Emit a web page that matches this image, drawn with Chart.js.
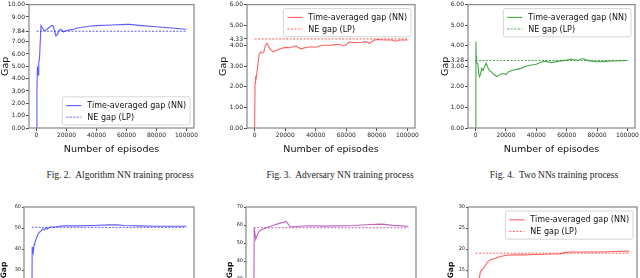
<!DOCTYPE html>
<html>
<head>
<meta charset="utf-8">
<script src="https://cdn.jsdelivr.net/npm/chart.js@4.4.0/dist/chart.umd.min.js"></script>
<style>
  html, body { margin: 0; padding: 0; background: #fff; }
  body { width: 640px; height: 278px; position: relative; overflow: hidden; }
  canvas { position: absolute; }
  .cap { position: absolute; top: 170px; font-family: "Liberation Serif", serif; font-size: 9.5px;
         color: #222; white-space: nowrap; transform: translateX(-50%); }
</style>
</head>
<body>
<canvas id="c1"></canvas>
<canvas id="c2"></canvas>
<canvas id="c3"></canvas>
<canvas id="c4"></canvas>
<canvas id="c5"></canvas>
<canvas id="c6"></canvas>
<div class="cap" style="left:120px">Fig. 2.&nbsp; Algorithm NN training process</div>
<div class="cap" style="left:340px">Fig. 3.&nbsp; Adversary NN training process</div>
<div class="cap" style="left:554px">Fig. 4.&nbsp; Two NNs training process</div>
<script>
// episode ticks shared by every panel
const xTicks = [0, 20000, 40000, 60000, 80000, 100000];

// Fig. 2 - algorithm NN
const ep1 = [0, 300, 600, 1000, 1500, 2000, 2500, 3000, 4000, 5000, 6000, 8000, 10000, 11000, 12000, 13000, 14000, 15000, 16000, 18000, 20000, 22000, 25000, 27000, 30000, 35000, 40000, 50000, 60000, 62000, 70000, 80000, 90000, 100000];
const gap1 = [0, 3.0, 5.0, 4.3, 5.3, 5.6, 7.0, 8.3, 8.1, 7.9, 7.9, 8.1, 8.3, 8.3, 7.9, 7.45, 7.6, 7.9, 8.0, 7.8, 7.9, 7.95, 8.0, 8.1, 8.15, 8.25, 8.3, 8.35, 8.4, 8.4, 8.3, 8.2, 8.1, 8.0];
const ne1 = 7.84;
const yTicks1 = [0, 1, 2, 3, 4, 5, 6, 7, 7.84, 9, 10];

// Fig. 3 - adversary NN
const ep2 = [0, 300, 600, 1000, 2000, 3000, 4000, 5000, 6000, 7000, 8000, 9000, 10000, 12000, 15000, 18000, 20000, 23000, 25000, 27000, 30000, 33000, 37000, 40000, 43000, 45000, 50000, 55000, 58000, 60000, 62000, 65000, 70000, 73000, 75000, 78000, 80000, 85000, 90000, 92000, 95000, 100000];
const gap2 = [0, 2.2, 2.45, 2.4, 3.0, 3.6, 3.7, 3.65, 3.7, 4.0, 4.12, 4.0, 3.85, 3.7, 3.8, 3.88, 3.92, 3.9, 3.95, 4.0, 3.85, 3.9, 3.95, 3.93, 4.0, 4.02, 4.03, 4.07, 4.0, 4.05, 4.18, 4.15, 4.17, 4.2, 4.12, 4.25, 4.3, 4.28, 4.28, 4.22, 4.28, 4.28];
const ne2 = 4.33;
const yTicks2 = [0, 1, 2, 3, 4, 4.33, 5, 6];

// Fig. 4 - two NNs
const ep3 = [0, 200, 400, 600, 1000, 1500, 2000, 2500, 3000, 4000, 5000, 6000, 7000, 8000, 9000, 10000, 12000, 14000, 16000, 18000, 20000, 22000, 24000, 27000, 30000, 33000, 36000, 40000, 43000, 46000, 50000, 55000, 60000, 63000, 65000, 68000, 71000, 73000, 76000, 80000, 85000, 90000, 95000, 100000];
const gap3 = [0, 4.2, 3.5, 3.2, 3.15, 3.1, 2.7, 2.5, 2.55, 2.9, 2.8, 3.0, 3.15, 2.95, 2.8, 2.75, 2.6, 2.5, 2.6, 2.65, 2.6, 2.75, 2.8, 2.85, 2.9, 3.0, 3.05, 3.1, 3.2, 3.25, 3.18, 3.25, 3.3, 3.35, 3.3, 3.32, 3.38, 3.3, 3.25, 3.22, 3.24, 3.26, 3.27, 3.28];
const ne3 = 3.28;
const yTicks3 = [0, 1, 2, 3, 3.28, 4, 5, 6];

// second row (cut off at the bottom)
const ep4 = [0, 300, 600, 1000, 1500, 2000, 3000, 4000, 5000, 6000, 7000, 8000, 9000, 10000, 12000, 15000, 20000, 30000, 40000, 50000, 55000, 60000, 70000, 80000, 90000, 100000];
const gap4 = [0, 41, 39, 38, 42, 43, 45, 47, 48, 48.5, 49.5, 49, 50, 49.5, 50.5, 50.5, 51, 51, 51.2, 51.5, 51.5, 51.2, 51, 50.8, 50.8, 50.8];
const ne4 = 50.3;
const yTicks4 = [0, 10, 20, 30, 40, 50, 60];

const ep5 = [0, 300, 1300, 2500, 4000, 7000, 10000, 15000, 21000, 23500, 27000, 30000, 36000, 45000, 54000, 65000, 75000, 83000, 90000, 100000];
const gap5 = [0, 58.5, 52, 55, 57, 58, 59, 60.5, 62, 59, 59, 59.3, 59.6, 59.4, 59.5, 59.7, 60.3, 60.5, 59.8, 59.3];
const ne5 = 58.5;
const yTicks5 = [0, 10, 20, 30, 40, 50, 60, 70];

const ep6 = [0, 1000, 2000, 3000, 4000, 5000, 6000, 8000, 10000, 13000, 16000, 20000, 25000, 30000, 40000, 50000, 55000, 58000, 62000, 70000, 80000, 90000, 100000];
const gap6 = [0, 9, 12, 14.5, 15, 15.3, 16, 17, 17.5, 17.8, 18.2, 18.5, 18.6, 18.6, 18.7, 18.8, 18.8, 19.2, 19.3, 19.3, 19.3, 19.4, 19.5];
const ne6 = 19.0;
const yTicks6 = [0, 5, 10, 15, 20, 25, 30];

const labels = ['Time-averaged gap (NN)', 'NE gap (LP)'];

// axes box + legend drawn inside the plot, matplotlib style
const framePlugin = {
  id: 'frame',
  afterDatasetsDraw(chart, args, o) {
    const { ctx, chartArea: a } = chart;
    ctx.save();
    ctx.strokeStyle = '#8f8f8f';
    ctx.lineWidth = 1.3;
    ctx.strokeRect(a.left, a.top, a.right - a.left, a.bottom - a.top);
    if (o.legend) {
      const fs = o.fontSize || 8;
      ctx.font = fs + 'px "DejaVu Sans"';
      const tw = Math.max(...labels.map(t => ctx.measureText(t).width));
      const w = 4 + 15 + 6 + tw + 4, rowH = fs * 1.45, h = rowH * 2 + 5;
      const x = a.right - w - 4;
      const y = o.legend === 'lr' ? a.bottom - h - 3 : a.top + 4;
      ctx.fillStyle = 'rgba(255,255,255,0.85)';
      ctx.strokeStyle = '#d6d6d6';
      ctx.lineWidth = 1;
      ctx.beginPath();
      ctx.roundRect(x, y, w, h, 2);
      ctx.fill();
      ctx.stroke();
      chart.data.datasets.forEach((ds, i) => {
        const ry = y + 3 + rowH * (i + 0.5);
        ctx.strokeStyle = ds.borderColor;
        ctx.lineWidth = ds.borderWidth;
        ctx.setLineDash(ds.borderDash || []);
        ctx.beginPath();
        ctx.moveTo(x + 4, ry);
        ctx.lineTo(x + 19, ry);
        ctx.stroke();
        ctx.setLineDash([]);
        ctx.fillStyle = '#111';
        ctx.textBaseline = 'middle';
        ctx.fillText(labels[i], x + 25, ry + 0.5);
      });
    }
    ctx.restore();
  }
};

function makeChart(id, box, ep, gap, ne, yTicks, cfg) {
  const cv = document.getElementById(id);
  cv.width = box.w; cv.height = box.h;
  cv.style.left = box.x + 'px'; cv.style.top = box.y + 'px';
  cv.style.width = box.w + 'px'; cv.style.height = box.h + 'px';
  const small = cfg.small;
  return new Chart(cv.getContext('2d'), {
    type: 'line',
    data: {
      datasets: [{
        label: labels[0],
        data: ep.map((e, i) => ({ x: e, y: gap[i] })),
        borderColor: cfg.color,
        borderWidth: 1.1,
        pointRadius: 0,
        tension: 0
      }, {
        label: labels[1],
        data: [{ x: 0, y: ne }, { x: 100000, y: ne }],
        borderColor: cfg.color,
        borderWidth: 1,
        borderDash: [2, 1.5],
        pointRadius: 0
      }]
    },
    options: {
      responsive: false,
      animation: false,
      devicePixelRatio: 1,
      layout: { padding: { top: box.pt, right: box.pr, left: 0, bottom: 0 } },
      plugins: {
        legend: { display: false },
        tooltip: { enabled: false },
        frame: { legend: cfg.legend, fontSize: cfg.legendFont }
      },
      scales: {
        x: {
          type: 'linear',
          min: -5000,
          max: 105000,
          afterBuildTicks: s => { s.ticks = xTicks.map(v => ({ value: v })); },
          afterFit: s => { s.height = box.xh; },
          border: { display: false },
          grid: { drawOnChartArea: false, drawTicks: true, tickLength: 3, color: '#444' },
          ticks: {
            font: { family: 'DejaVu Sans', size: small ? 5 : 6 }, color: '#222', padding: 1, maxRotation: 0, autoSkip: false,
            callback: v => String(v)
          },
          title: { display: true, text: 'Number of episodes', font: { family: 'DejaVu Sans', size: 9.5 }, color: '#111', padding: { top: 0, bottom: 0 } }
        },
        y: {
          min: yTicks[0],
          max: yTicks[yTicks.length - 1],
          afterBuildTicks: s => { s.ticks = yTicks.map(v => ({ value: v })); },
          afterFit: s => { s.width = box.yw; },
          border: { display: false },
          grid: { drawOnChartArea: false, drawTicks: true, tickLength: small ? 2 : 3, color: '#444' },
          ticks: {
            font: { family: 'DejaVu Sans', size: small ? 5 : 6 }, color: '#222', padding: 1, autoSkip: false,
            callback: v => small ? String(v) : v.toFixed(2)
          },
          title: { display: true, text: 'Gap', font: { family: 'DejaVu Sans', size: small ? 7.5 : 9.5, weight: small ? 'bold' : 'normal' }, color: '#111', padding: { top: 0, bottom: 0 } }
        }
      }
    },
    plugins: [framePlugin]
  });
}

const blue = 'rgba(40,40,255,0.75)';
const red = 'rgba(255,30,30,0.7)';
const green = 'rgba(40,150,40,0.85)';
const purple = 'rgba(175,60,175,0.8)';

makeChart('c1', { x: 0, y: 0, w: 205, h: 155, yw: 29, xh: 27, pt: 1, pr: 11 }, ep1, gap1, ne1, yTicks1, { color: blue, legend: 'lr', legendFont: 8 });
makeChart('c2', { x: 218, y: 0, w: 207, h: 155, yw: 29, xh: 27, pt: 1, pr: 10 }, ep2, gap2, ne2, yTicks2, { color: red, legend: 'tr', legendFont: 8 });
makeChart('c3', { x: 440, y: 0, w: 200, h: 155, yw: 28, xh: 27, pt: 1, pr: 3 }, ep3, gap3, ne3, yTicks3, { color: green, legend: 'tr', legendFont: 8 });
makeChart('c4', { x: 0, y: 190, w: 205, h: 170, yw: 24, xh: 27, pt: 17, pr: 11 }, ep4, gap4, ne4, yTicks4, { color: blue, small: true, legend: 'lr', legendFont: 8 });
makeChart('c5', { x: 226, y: 190, w: 200, h: 170, yw: 20, xh: 27, pt: 17, pr: 10 }, ep5, gap5, ne5, yTicks5, { color: purple, small: true, legend: 'lr', legendFont: 8 });
makeChart('c6', { x: 447, y: 190, w: 193, h: 170, yw: 21, xh: 27, pt: 17, pr: 3 }, ep6, gap6, ne6, yTicks6, { color: red, small: true, legend: 'tr', legendFont: 8 });
</script>
</body>
</html>
